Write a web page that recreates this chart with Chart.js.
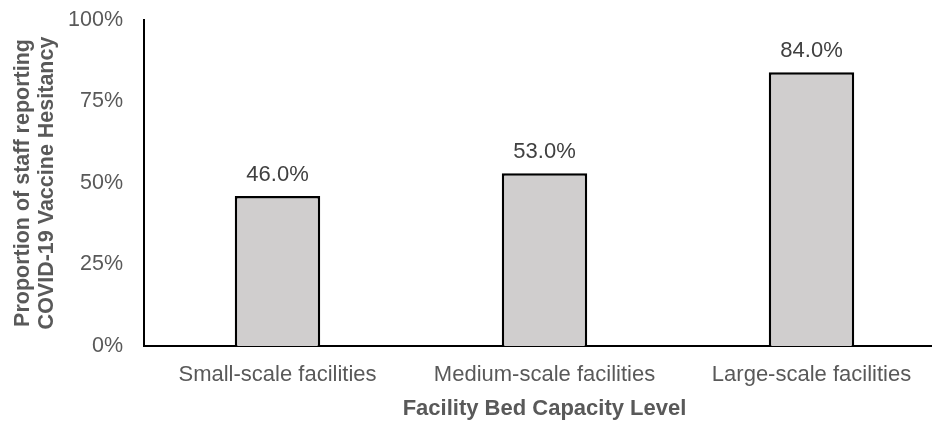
<!DOCTYPE html>
<html>
<head>
<meta charset="utf-8">
<script src="https://cdn.jsdelivr.net/npm/chart.js@4/dist/chart.umd.min.js"></script>
<style>
  html, body { margin: 0; padding: 0; background: #fff; overflow: hidden; }
  #wrap { width: 945px; height: 422px; }
</style>
</head>
<body>
<div id="wrap"><canvas id="chartBar"></canvas></div>
<script>
// Data
const categories = ['Small-scale facilities', 'Medium-scale facilities', 'Large-scale facilities'];
const hesitancy = [46.0, 53.0, 84.0];
const yTicks = [0, 25, 50, 75, 100];

const textGray = '#595959';
const fontFam = '"Liberation Sans", Arial, sans-serif';

// label di atas batang
const barLabels = {
  id: 'barLabels',
  afterDatasetsDraw(chart) {
    const { ctx } = chart;
    ctx.save();
    ctx.font = '22px ' + fontFam;
    ctx.fillStyle = '#404040';
    ctx.textAlign = 'center';
    ctx.textBaseline = 'middle';
    chart.getDatasetMeta(0).data.forEach((bar, i) => {
      ctx.fillText(hesitancy[i].toFixed(1) + '%', bar.x, bar.y - 21);
    });
    ctx.restore();
  }
};

const ctx = document.getElementById('chartBar').getContext('2d');
const chart = new Chart(ctx, {
  type: 'bar',
  data: {
    labels: categories,
    datasets: [{
      data: hesitancy,
      backgroundColor: '#d0cece',
      borderColor: '#000000',
      borderWidth: 2.5,
      borderSkipped: 'bottom',
      barPercentage: 0.32,
      categoryPercentage: 1
    }]
  },
  options: {
    responsive: true,
    maintainAspectRatio: false,
    animation: false,
    layout: { padding: { top: 20, left: 0, right: 0, bottom: 0 } },
    plugins: {
      legend: { display: false },
      tooltip: { enabled: false }
    },
    scales: {
      x: {
        grid: { display: false, drawTicks: false },
        border: { color: '#000', width: 2 },
        ticks: {
          color: textGray,
          font: { family: fontFam, size: 22 },
          padding: 16,
          maxRotation: 0,
          autoSkip: false
        },
        title: {
          display: true,
          text: 'Facility Bed Capacity Level',
          color: textGray,
          font: { family: fontFam, size: 22, weight: 'bold' },
          padding: { top: 4, bottom: 0 }
        },
        afterFit(scale) {
          scale.height = 76;
          scale.paddingLeft = 0;
          scale.paddingRight = 0;
        }
      },
      y: {
        min: 0,
        max: 100,
        afterBuildTicks(scale) { scale.ticks = yTicks.map(v => ({ value: v })); },
        grid: { display: false, drawTicks: false },
        border: { color: '#000', width: 2 },
        ticks: {
          color: textGray,
          font: { family: fontFam, size: 21.5 },
          padding: 21,
          callback: v => v + '%'
        },
        title: {
          display: true,
          text: ['Proportion of staff reporting', 'COVID-19 Vaccine Hesitancy'],
          color: textGray,
          font: { family: fontFam, size: 21.5, weight: 'bold', lineHeight: 1.12 },
          padding: { top: 11, bottom: 0 }
        },
        afterFit(scale) {
          scale.width = 144;
          scale.paddingTop = 0;
          scale.paddingBottom = 0;
        }
      }
    }
  },
  plugins: [barLabels]
});
</script>
</body>
</html>
